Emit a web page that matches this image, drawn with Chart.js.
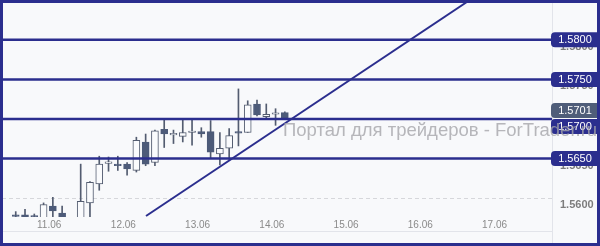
<!DOCTYPE html>
<html>
<head>
<meta charset="utf-8">
<script src="https://cdn.jsdelivr.net/npm/chart.js@4.4.1/dist/chart.umd.min.js"></script>
<style>
  html, body { margin: 0; padding: 0; background: #f8f9fb; }
  #wrap { width: 600px; height: 246px; }
</style>
</head>
<body>
<div id="wrap"><canvas id="chart" width="600" height="246"></canvas></div>
<script>
// 3h candles, one slot per candle (slot 6 has no candle)
const opens  = [1.5578, 1.5579, 1.5575, 1.5570, 1.5590, 1.5581, null, 1.5568, 1.5594, 1.5618, 1.5644, 1.5643, 1.5643, 1.5635, 1.5671,
                1.5645, 1.5687, 1.5680, 1.5678, 1.5683, 1.5684, 1.5684, 1.5656, 1.5663, 1.5684, 1.5683, 1.5719, 1.5703, 1.5706, 1.5708];
const highs  = [1.5583, 1.5586, 1.5580, 1.5594, 1.5601, 1.5590, null, 1.5643, 1.5621, 1.5653, 1.5652, 1.5653, 1.5645, 1.5677, 1.5681,
                1.5686, 1.5700, 1.5686, 1.5699, 1.5700, 1.5689, 1.5698, 1.5683, 1.5688, 1.5738, 1.5723, 1.5724, 1.5719, 1.5713, 1.5709];
const lows   = [1.5572, 1.5571, 1.5570, 1.5568, 1.5574, 1.5570, null, 1.5566, 1.5574, 1.5610, 1.5634, 1.5635, 1.5629, 1.5633, 1.5641,
                1.5641, 1.5664, 1.5669, 1.5671, 1.5667, 1.5677, 1.5651, 1.5642, 1.5649, 1.5666, 1.5683, 1.5704, 1.5700, 1.5692, 1.5699];
const closes = [1.5577, 1.5574, 1.5574, 1.5592, 1.5584, 1.5574, null, 1.5596, 1.5620, 1.5643, 1.5644, 1.5641, 1.5637, 1.5673, 1.5643,
                1.5685, 1.5681, 1.5680, 1.5683, 1.5683, 1.5681, 1.5658, 1.5663, 1.5679, 1.5682, 1.5718, 1.5705, 1.5706, 1.5706, 1.5701];

const dayLabels = ["11.06", "12.06", "13.06", "14.06", "15.06", "16.06", "17.06"];
const slotsPerDay = 8;
const firstDaySlot = 3.6;

const yTicks = [1.5600, 1.5650, 1.5700, 1.5750, 1.5800];
const levels = [1.5800, 1.5750, 1.5700, 1.5650];
const trendStart = { x: 14.04, y: 1.55775 };
const trendEnd   = { x: 48.62, y: 1.58478 };

const xMin = -1.48, xMax = 57.79;
const yMin = 1.55762, yMax = 1.58478;

const NAVY = "#2b2e8e";
const BEAR = "#4d5b79";
const BULL = "#fafbfd";
const EDGE = "#535c70";

// build candle datasets
const wickData = [], bodyData = [], bodyFill = [], bodyEdge = [];
opens.forEach((o, i) => {
    if (o === null) return;
    wickData.push({ x: i, y: [lows[i], highs[i]] });
    bodyData.push({ x: i, y: [o, closes[i]] });
    const up = closes[i] >= o;
    bodyFill.push(up ? BULL : BEAR);
    bodyEdge.push(up ? EDGE : BEAR);
});

const levelSets = levels.map(v => ({
    type: "line",
    data: [{ x: xMin, y: v }, { x: xMax, y: v }],
    borderColor: NAVY,
    borderWidth: 2.5,
    pointRadius: 0,
    order: 0
}));

const frame = {
    id: "frame",
    beforeDraw(chart) {
        const ctx = chart.ctx;
        ctx.save();
        ctx.fillStyle = "#f8f9fb";
        ctx.fillRect(0, 0, chart.width, chart.height);
        ctx.restore();
    },
    afterDraw(chart) {
        const ctx = chart.ctx;
        const area = chart.chartArea;
        const y = chart.scales.y;
        ctx.save();

        // faint separators
        ctx.strokeStyle = "#e2e4ea";
        ctx.lineWidth = 1;
        ctx.beginPath();
        ctx.moveTo(2, 231.5);
        ctx.lineTo(area.right, 231.5);
        ctx.moveTo(area.right + 0.5, 2);
        ctx.lineTo(area.right + 0.5, 244);
        ctx.stroke();

        // price badges
        const badges = levels.map(v => ({ v: v, c: NAVY, y: y.getPixelForValue(v) }));
        const last = closes[closes.length - 1];
        badges.push({ v: last, c: "#4f5d79", y: y.getPixelForValue(last) });
        badges.sort((a, b) => a.y - b.y);
        const h = 15;
        for (let i = 1; i < badges.length; i++) {
            const a = badges[i - 1], b = badges[i];
            if (b.y - a.y < h + 1) {
                const mid = (a.y + b.y) / 2;
                a.y = mid - (h + 1) / 2;
                b.y = mid + (h + 1) / 2;
            }
        }
        badges.forEach(bd => {
            const x0 = area.right - 1, top = bd.y - h / 2;
            ctx.fillStyle = bd.c;
            ctx.beginPath();
            ctx.roundRect(x0, top, chart.width - x0, h, [4, 0, 0, 4]);
            ctx.fill();
            ctx.fillStyle = "#ffffff";
            ctx.font = "11px 'Liberation Sans', Arial, sans-serif";
            ctx.textAlign = "center";
            ctx.textBaseline = "middle";
            ctx.fillText(bd.v.toFixed(4), 575, bd.y + 0.5);
        });

        // watermark
        ctx.fillStyle = "rgba(165,165,170,0.8)";
        ctx.font = "18.5px 'Liberation Sans', Arial, sans-serif";
        ctx.textAlign = "left";
        ctx.textBaseline = "middle";
        ctx.fillText("Портал для трейдеров - ForTrader.ru", 283, 131);

        // outer frame
        ctx.strokeStyle = NAVY;
        ctx.lineWidth = 3;
        ctx.strokeRect(1.5, 1.5, chart.width - 3, chart.height - 3);
        ctx.restore();
    }
};

new Chart(document.getElementById("chart"), {
    type: "bar",
    data: {
        datasets: [
            ...levelSets,
            {
                type: "line",
                data: [trendStart, trendEnd],
                borderColor: NAVY,
                borderWidth: 2,
                pointRadius: 0,
                order: 0
            },
            {
                data: bodyData,
                backgroundColor: bodyFill,
                borderColor: bodyEdge,
                borderWidth: 1,
                borderSkipped: false,
                barThickness: 7,
                minBarLength: 1.5,
                grouped: false,
                order: 1
            },
            {
                data: wickData,
                backgroundColor: EDGE,
                borderWidth: 0,
                barThickness: 1,
                grouped: false,
                order: 2
            }
        ]
    },
    options: {
        responsive: false,
        animation: false,
        events: [],
        layout: { padding: { left: 2, top: 2, right: 0, bottom: 0 } },
        plugins: { legend: { display: false }, tooltip: { enabled: false } },
        scales: {
            x: {
                type: "linear",
                min: xMin,
                max: xMax,
                offset: false,
                grid: { display: false, drawTicks: false },
                border: { display: false },
                afterBuildTicks: axis => {
                    axis.ticks = dayLabels.map((_, k) => ({ value: firstDaySlot + k * slotsPerDay }));
                },
                afterFit: axis => {
                    axis.height = 29;
                    axis.paddingLeft = 0;
                    axis.paddingRight = 0;
                },
                ticks: {
                    autoSkip: false,
                    maxRotation: 0,
                    padding: 2,
                    color: "#8a8a8a",
                    font: { size: 10, family: "'Liberation Sans', Arial, sans-serif" },
                    callback: (v, i) => dayLabels[i]
                }
            },
            y: {
                position: "right",
                min: yMin,
                max: yMax,
                grid: {
                    color: "#d6d7db",
                    drawTicks: false
                },
                border: { display: false, dash: [4, 3] },
                afterBuildTicks: axis => {
                    axis.ticks = yTicks.map(v => ({ value: v }));
                },
                afterFit: axis => {
                    axis.width = 48;
                    axis.paddingTop = 0;
                    axis.paddingBottom = 0;
                },
                ticks: {
                    padding: 8,
                    labelOffset: 7,
                    color: "#7d7d7d",
                    font: { size: 11, weight: "bold", family: "'Liberation Sans', Arial, sans-serif" },
                    callback: v => v.toFixed(4)
                }
            }
        }
    },
    plugins: [frame]
});
</script>
</body>
</html>
